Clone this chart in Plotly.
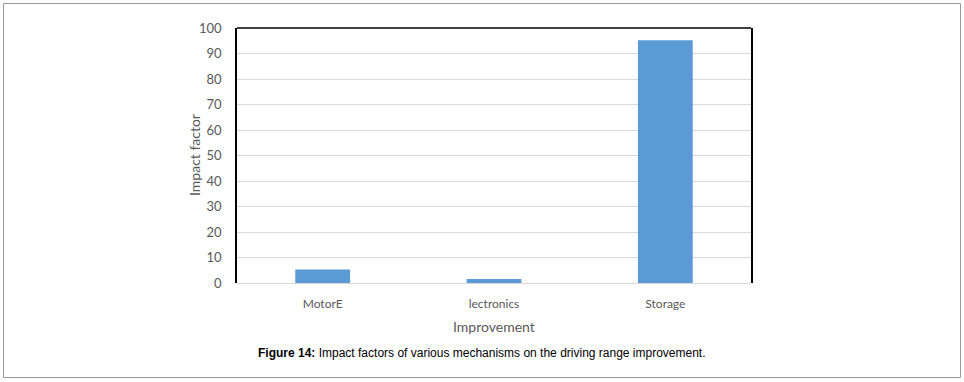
import plotly.graph_objects as go

categories = ["MotorE", "lectronics", "Storage"]
values = [5.3, 1.6, 95.2]
y_ticks = [0, 10, 20, 30, 40, 50, 60, 70, 80, 90, 100]

W, H = 964, 382
L, R, T, B = 237, 751, 28, 283
pw, ph = R - L, B - T

def px(x):
    return (x - L) / pw

def py(y):
    return (B - y) / ph

fig = go.Figure()
fig.add_trace(go.Bar(
    x=categories, y=values,
    marker=dict(color="#5b9bd5", line=dict(width=0)),
    width=0.32,
))

font_fam = "Lato, Open Sans, sans-serif"
fig.update_layout(
    width=W, height=H,
    margin=dict(l=L, r=W - R, t=T, b=H - B),
    paper_bgcolor="white", plot_bgcolor="white",
    showlegend=False,
    font=dict(family=font_fam, size=12, color="#595959"),
    xaxis=dict(
        showgrid=False, showline=False, zeroline=False,
        ticks="", ticklabelstandoff=12, tickfont=dict(size=12, color="#595959"),
    ),
    yaxis=dict(
        range=[0, 100], tickvals=y_ticks, ticktext=[str(v) for v in y_ticks],
        showgrid=True, gridcolor="#d9d9d9", gridwidth=1,
        zeroline=True, zerolinecolor="#d9d9d9", zerolinewidth=1,
        showline=True, linecolor="black", linewidth=1.5, mirror=True,
        ticks="", ticklabelstandoff=11,
        tickfont=dict(size=13, color="#595959"),
    ),
    bargap=0.68,
)

# axis titles
fig.add_annotation(xref="paper", yref="paper", x=px(494), y=py(326), showarrow=False,
                   text="Improvement", font=dict(size=14, color="#595959"),
                   xanchor="center", yanchor="middle")
fig.add_annotation(xref="paper", yref="paper", x=px(194), y=py(155), showarrow=False,
                   text="Impact factor", textangle=-90, font=dict(size=14, color="#595959"),
                   xanchor="center", yanchor="middle")

# top border of plot area
fig.add_shape(type="line", xref="paper", yref="paper", x0=0, x1=1, y0=1, y1=1,
              line=dict(color="black", width=1.5))

# outer frame of the figure
fig.add_shape(type="rect", xref="paper", yref="paper",
              x0=px(3.5), x1=px(960.5), y0=py(377.5), y1=py(3.5),
              line=dict(color="#9a9a9a", width=1), layer="below")

fig.add_annotation(
    xref="paper", yref="paper", x=px(482), y=py(353), showarrow=False,
    text="<b>Figure 14:</b> Impact factors of various mechanisms on the driving range improvement.",
    font=dict(family="Liberation Sans, Arial, sans-serif", size=12, color="black"),
    xanchor="center", yanchor="middle",
)

fig.write_html("out.html", config={"displayModeBar": False},
               post_script="document.body.style.margin='0';document.body.style.overflow='hidden';")
